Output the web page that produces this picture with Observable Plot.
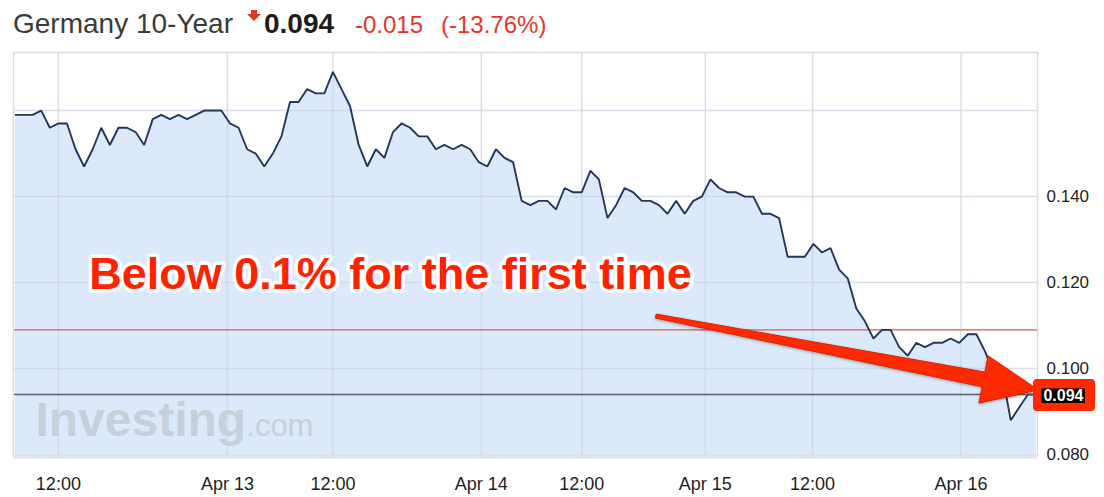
<!DOCTYPE html>
<html>
<head>
<meta charset="utf-8">
<script src="https://cdn.jsdelivr.net/npm/d3@7"></script>
<script src="https://cdn.jsdelivr.net/npm/@observablehq/plot@0.6"></script>
<style>
  html, body { margin: 0; padding: 0; background: #fff; }
  body { font-family: "Liberation Sans", Arial, Helvetica, sans-serif; width: 1104px; }
  #header { position: relative; width: 1104px; height: 45px; }
  #header span { position: absolute; white-space: nowrap; }
  .big { font-size: 28px; line-height: 28px; top: 9.5px; }
  .mid { font-size: 24px; line-height: 24px; top: 12.5px; }
  .icon-stem { position: absolute; left: 251px; top: 10px; width: 6px; height: 5px; background: #e5352b; }
  .icon-head { position: absolute; left: 247px; top: 14px; width: 0; height: 0;
               border-left: 7px solid transparent; border-right: 7px solid transparent; border-top: 7px solid #e5352b; }
  g[aria-label="annotation"] { filter: drop-shadow(1px 2px 1.5px rgba(0,0,0,0.35)); }
</style>
</head>
<body>
<div id="header"></div>
<div id="chart"></div>
<script>
// ---------- data ----------
const titleName = "Germany 10-Year";
const lastText = "0.094";
const changeText = "-0.015";
const pctText = "(-13.76%)";

// yields, one point per sampling step
const yields = [
  0.159,0.159,0.159,0.160,0.156,0.157,0.157,0.151,0.147,0.151,
  0.156,0.152,0.156,0.156,0.155,0.152,0.158,0.159,0.158,0.159,
  0.158,0.159,0.160,0.160,0.160,0.157,0.156,0.151,0.150,0.147,
  0.150,0.154,0.162,0.162,0.165,0.164,0.164,0.169,0.165,0.161,
  0.152,0.147,0.151,0.149,0.155,0.157,0.156,0.154,0.154,0.151,
  0.152,0.151,0.152,0.151,0.148,0.147,0.151,0.149,0.148,0.139,
  0.138,0.139,0.139,0.137,0.142,0.141,0.141,0.146,0.144,0.135,
  0.138,0.142,0.141,0.139,0.139,0.138,0.136,0.139,0.136,0.139,
  0.140,0.144,0.142,0.141,0.141,0.140,0.140,0.136,0.136,0.135,
  0.126,0.126,0.126,0.129,0.127,0.128,0.123,0.121,0.114,0.111,
  0.107,0.109,0.109,0.105,0.103,0.106,0.105,0.106,0.106,0.107,
  0.106,0.108,0.108,0.104,0.099,0.099,0.088,0.091,0.094,0.094
];

// x-axis ticks (in sampling-step units) and their labels
const tickPositions = [5, 24.7, 37, 54.3, 66, 80.4, 92.9, 110.2];
const tickLabels = ["12:00", "Apr 13", "12:00", "Apr 14", "12:00", "Apr 15", "12:00", "Apr 16"];

const yTicks = [0.08, 0.10, 0.12, 0.14];
const yGrid = [0.10, 0.12, 0.14, 0.16];
const xDomain = [-0.23, 119.12];
const yDomain = [0.0798, 0.1735];

const prevClose = 0.109;
const lastValue = 0.094;

const annotation = [{text: "Below 0.1% for the first time", x: 8.6, y: 0.1184}];
const arrowFrom = {x: 74.7, y: 0.1121};
const arrowTo = {x: 119.3, y: 0.0949};
const watermarkMain = [{text: "Investing", x: 2.33, y: 0.08442}];
const watermarkTail = [{text: ".com", x: 26.9, y: 0.08442}];

// ---------- header ----------
const header = document.getElementById("header");
header.innerHTML = `
  <span class="big" style="left:13px;color:#3a3a3a">${titleName}</span>
  <div class="icon-stem"></div><div class="icon-head"></div>
  <span class="big" style="left:264px;color:#1c1c1c;font-weight:bold">${lastText}</span>
  <span class="mid" style="left:355px;color:#e5352b">${changeText}</span>
  <span class="mid" style="left:441px;color:#e5352b">${pctText}</span>`;

// ---------- chart ----------
const data = yields.map((v, i) => ({i, v}));
const labelMap = new Map(tickPositions.map((p, k) => [p, tickLabels[k]]));

function arrowMark(index, scales, values, dims) {
  const x0 = scales.x(arrowFrom.x), y0 = scales.y(arrowFrom.y);
  const x1 = scales.x(arrowTo.x), y1 = scales.y(arrowTo.y);
  const dx = x1 - x0, dy = y1 - y0, L = Math.hypot(dx, dy);
  const ux = dx / L, uy = dy / L, nx = -uy, ny = ux;
  const headLen = 56, headHalf = 24, s0 = 2, s1 = 7.5;
  const bx = x1 - ux * headLen, by = y1 - uy * headLen;
  const pts = [
    [x0 + nx * s0, y0 + ny * s0],
    [bx + nx * s1, by + ny * s1],
    [bx + nx * headHalf, by + ny * headHalf],
    [x1, y1],
    [bx - nx * headHalf, by - ny * headHalf],
    [bx - nx * s1, by - ny * s1],
    [x0 - nx * s0, y0 - ny * s0]
  ];
  const g = d3.create("svg:g").attr("aria-label", "arrow")
    .style("filter", "drop-shadow(0px 1.5px 1.5px rgba(0,0,0,0.35))");
  g.append("path")
    .attr("d", "M" + pts.map(p => p.join(",")).join("L") + "Z")
    .attr("fill", "#ff2a00")
    .attr("stroke", "#e02000")
    .attr("stroke-width", 1)
    .attr("stroke-linejoin", "round");
  return g.node();
}

function lastLabelMark(index, scales, values, dims) {
  const y = scales.y(lastValue);
  const xr = dims.width - dims.marginRight;
  const g = d3.create("svg:g").attr("aria-label", "last value");
  g.append("rect").attr("x", xr - 4).attr("y", y - 15).attr("width", 62).attr("height", 32)
    .attr("rx", 4).attr("fill", "#ff2a00");
  g.append("rect").attr("x", xr + 4.5).attr("y", y - 5.5).attr("width", 43.5).attr("height", 14.5)
    .attr("fill", "#000");
  g.append("text").attr("x", xr + 26.5).attr("y", y + 1.8).attr("dy", "0.35em")
    .attr("text-anchor", "middle").attr("fill", "#fff")
    .attr("font-size", 16).attr("font-weight", "bold")
    .attr("font-family", "Liberation Sans, Arial, sans-serif")
    .text(lastText);
  return g.node();
}

const chart = Plot.plot({
  width: 1104,
  height: 452,
  marginTop: 7,
  marginBottom: 42,
  marginLeft: 13,
  marginRight: 67,
  x: {type: "linear", domain: xDomain},
  y: {type: "linear", domain: yDomain},
  style: {fontFamily: "Liberation Sans, Arial, Helvetica, sans-serif", background: "transparent", overflow: "visible"},
  marks: [
    Plot.areaY(data, {x: "i", y1: yDomain[0], y2: "v", fill: "#dbe9fb"}),
    Plot.text(watermarkMain, {x: "x", y: "y", text: "text", textAnchor: "start", lineAnchor: "bottom",
      fontSize: 48, fontWeight: "bold", fill: "#c7cfda", letterSpacing: -1}),
    Plot.text(watermarkTail, {x: "x", y: "y", text: "text", textAnchor: "start", lineAnchor: "bottom",
      fontSize: 31, fill: "#c7cfda"}),
    Plot.gridX(tickPositions, {stroke: "#c9d3e2", strokeOpacity: 0.7, strokeWidth: 1.5}),
    Plot.gridY(yGrid, {stroke: "#c9d3e2", strokeOpacity: 0.7, strokeWidth: 1.5}),
    Plot.ruleY([prevClose], {stroke: "#d65a55", strokeWidth: 1.2}),
    Plot.lineY(data, {x: "i", y: "v", stroke: "#24365c", strokeWidth: 1.9, strokeLinejoin: "miter"}),
    Plot.ruleY([lastValue], {stroke: "#56606e", strokeWidth: 1.6}),
    Plot.frame({stroke: "#dcdcdc", strokeWidth: 1.5}),
    Plot.ruleY([yDomain[0]], {stroke: "#e3e3e3", strokeWidth: 3, dy: 1.5}),
    Plot.axisX(tickPositions, {tickSize: 0, tickPadding: 22, tickFormat: d => labelMap.get(d),
      fontSize: 18, fill: "#1e1e1e", label: null}),
    Plot.axisY(yTicks, {anchor: "right", tickSize: 0, tickPadding: 9, tickFormat: d3.format(".3f"),
      fontSize: 17, fill: "#1e1e1e", textAnchor: "start", label: null}),
    arrowMark,
    Plot.text(annotation, {x: "x", y: "y", text: "text", textAnchor: "start", lineAnchor: "bottom",
      fontSize: 45, fontWeight: "bold", fill: "#ff2200", stroke: "#fff", strokeWidth: 7,
      paintOrder: "stroke", strokeLinejoin: "round", ariaLabel: "annotation"}),
    lastLabelMark
  ]
});
document.getElementById("chart").appendChild(chart);
</script>
</body>
</html>
